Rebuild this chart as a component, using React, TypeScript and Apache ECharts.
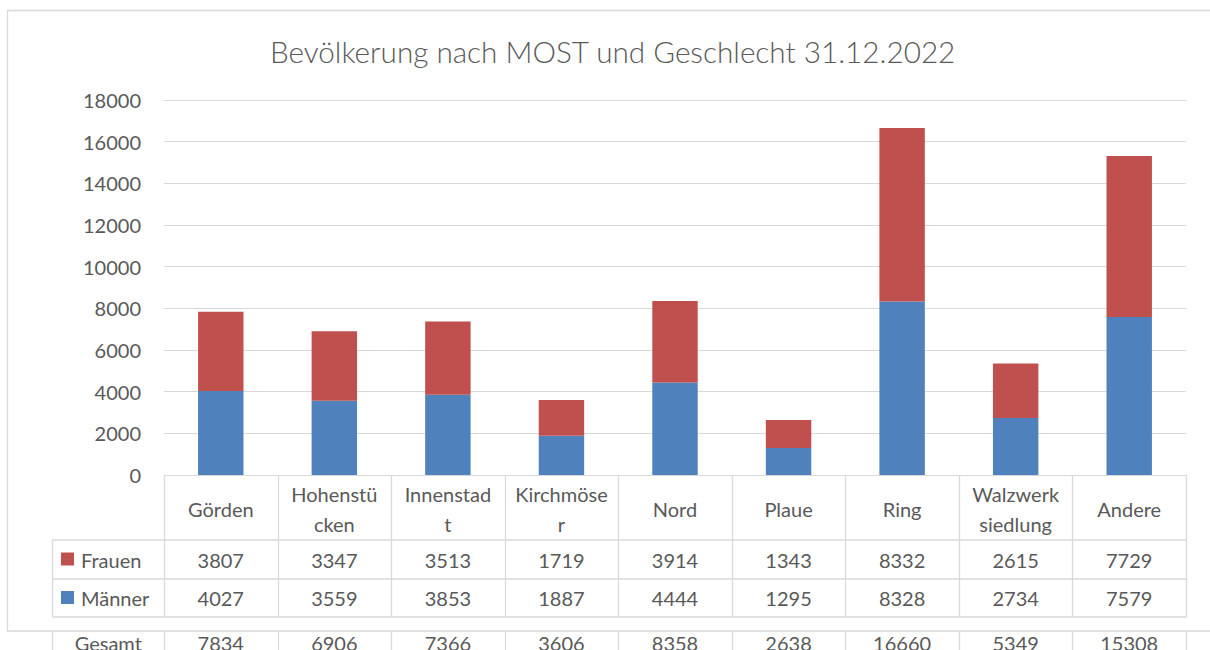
import React, { useEffect, useRef } from "react";
import * as echarts from "echarts";

const title = "Bevölkerung nach MOST und Geschlecht 31.12.2022";
const categories = ["Görden", "Hohenstücken", "Innenstadt", "Kirchmöser", "Nord", "Plaue", "Ring", "Walzwerksiedlung", "Andere"];
// character position at which the category name wraps in the table header (0 = no wrap)
const wrapAt = [0, 8, 9, 9, 0, 0, 0, 8, 0];
const frauen = [3807, 3347, 3513, 1719, 3914, 1343, 8332, 2615, 7729];
const maenner = [4027, 3559, 3853, 1887, 4444, 1295, 8328, 2734, 7579];
const seriesNames = ["Frauen", "Männer"];
const totalLabel = "Gesamt";
const yMin = 0;
const yMax = 18000;
const yInterval = 2000;

const FONT = 'Lato, "Open Sans", sans-serif';
const TEXT = "#595959";
const GRID = "#d9d9d9";
const BLUE = "#4F81BD";
const RED = "#C0504D";

function wrapLabel(name: string, at: number) {
  return at > 0 ? name.slice(0, at) + "\n" + name.slice(at) : name;
}

export default function App() {
  const ref = useRef<HTMLDivElement>(null);
  useEffect(() => {
    if (!ref.current) return;
    const chart = echarts.init(ref.current, undefined, { renderer: "svg" });
    chart.setOption({
      animation: false,
      backgroundColor: "#ffffff",
      title: {
        text: title,
        left: 265,
        top: 31,
        textStyle: { fontFamily: FONT, fontSize: 29.7, fontWeight: 300, color: TEXT },
      },
      grid: { left: 164, right: 24, top: 100, bottom: 175, containLabel: false },
      xAxis: {
        type: "category",
        data: categories,
        axisLine: { show: true, lineStyle: { color: GRID, width: 1 } },
        axisTick: { show: false },
        axisLabel: { show: false },
      },
      yAxis: {
        type: "value",
        min: yMin,
        max: yMax,
        interval: yInterval,
        axisLine: { show: false },
        axisTick: { show: false },
        splitLine: { lineStyle: { color: GRID, width: 1 } },
        axisLabel: { fontFamily: FONT, fontSize: 20, color: TEXT, margin: 23, formatter: (v: number) => String(v) },
      },
      series: [
        { name: seriesNames[1], type: "bar", stack: "total", data: maenner, barWidth: "40%", itemStyle: { color: BLUE } },
        { name: seriesNames[0], type: "bar", stack: "total", data: frauen, barWidth: "40%", itemStyle: { color: RED } },
      ],
    });

    // Build data table from the axis scale
    const centers = categories.map((_, i) => chart.convertToPixel({ xAxisIndex: 0 }, i) as number);
    const step = centers.length > 1 ? centers[1] - centers[0] : 100;
    const x0 = centers[0] - step / 2;
    const xEnd = centers[centers.length - 1] + step / 2;
    const axisY = chart.convertToPixel({ yAxisIndex: 0 }, 0) as number;
    const legendLeft = 52.5;
    const rowFrauen = axisY + 65;
    const rowMaenner = axisY + 104;
    const rowEnd = axisY + 142;
    const gesamtTop = axisY + 156;
    const totals = frauen.map((f, i) => f + maenner[i]);

    const g: any[] = [];
    const line = (x1: number, y1: number, x2: number, y2: number) =>
      g.push({ type: "line", shape: { x1, y1, x2, y2 }, style: { stroke: GRID, lineWidth: 1.3 }, silent: true });
    const text = (t: string, x: number, y: number, align = "center") =>
      g.push({
        type: "text",
        x,
        y,
        style: { text: t, fill: TEXT, fontFamily: FONT, fontSize: 20, lineHeight: 30, align, verticalAlign: "middle", textAlign: align, textVerticalAlign: "middle" },
        silent: true,
      });

    // outer chart border
    g.push({ type: "rect", shape: { x: 7.5, y: 10.5, width: 1300, height: gesamtTop - 10.5 }, style: { fill: "none", stroke: GRID, lineWidth: 1.3 }, silent: true });

    // table grid
    for (let i = 0; i <= categories.length; i++) {
      const x = Math.round(x0 + i * step) + 0.5;
      line(x, axisY, x, rowEnd);
      line(x, gesamtTop, x, 660);
    }
    line(legendLeft, rowFrauen, legendLeft, rowEnd);
    line(legendLeft, gesamtTop, legendLeft, 660);
    line(legendLeft, rowFrauen, xEnd, rowFrauen);
    line(legendLeft, rowMaenner, xEnd, rowMaenner);
    line(legendLeft, rowEnd, xEnd, rowEnd);

    // header + values
    const headerY = (axisY + rowFrauen) / 2 + 1;
    const frY = (rowFrauen + rowMaenner) / 2;
    const maY = (rowMaenner + rowEnd) / 2;
    const geY = gesamtTop + 12;
    categories.forEach((c, i) => {
      text(wrapLabel(c, wrapAt[i]), centers[i], headerY);
      text(String(frauen[i]), centers[i], frY);
      text(String(maenner[i]), centers[i], maY);
      text(String(totals[i]), centers[i], geY);
    });

    // row legends
    g.push({ type: "rect", shape: { x: 61, y: frY - 7, width: 13, height: 13 }, style: { fill: RED }, silent: true });
    g.push({ type: "rect", shape: { x: 61, y: maY - 7, width: 13, height: 13 }, style: { fill: BLUE }, silent: true });
    text(seriesNames[0], 81, frY, "left");
    text(seriesNames[1], 81, maY, "left");
    text(totalLabel, (legendLeft + x0) / 2, geY);

    chart.setOption({ graphic: g });

    return () => chart.dispose();
  }, []);
  return <div ref={ref} style={{ position: "fixed", left: 0, top: 0, width: 1210, height: 650 }} />;
}
